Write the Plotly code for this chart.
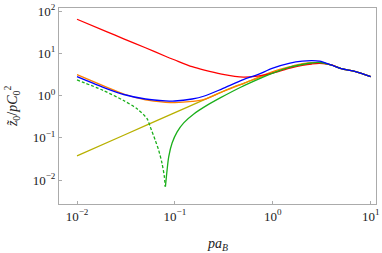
import plotly.graph_objects as go

# Common abscissa for red / orange / blue curves
x_common = [0.01, 0.02, 0.03, 0.05, 0.08, 0.1, 0.15, 0.2, 0.3, 0.5, 0.7, 1, 1.5, 2, 2.5, 3, 4, 5, 7, 10]
red_y = [63.8, 32.6, 21.9, 13.5, 8.50, 6.92, 4.81, 3.98, 3.21, 2.72, 2.88, 3.38, 4.44, 5.14, 5.57, 5.75, 5.31, 4.32, 3.67, 2.80]
blue_y = [2.80, 1.46, 1.056, 0.827, 0.750, 0.742, 0.827, 0.973, 1.42, 2.38, 3.12, 4.44, 5.82, 6.48, 6.66, 6.48, 5.22, 4.32, 3.67, 2.80]
orange_y = [3.12, 1.585, 1.085, 0.784, 0.692, 0.677, 0.723, 0.805, 1.21, 1.92, 2.65, 3.67, 4.81, 5.66, 5.98, 5.98, 5.22, 4.32, 3.67, 2.80]

# Green, solid branch
green_x = [0.08, 0.0832, 0.0864, 0.0936, 0.1054, 0.123, 0.156, 0.214, 0.293, 0.47, 0.753, 1.0, 1.5, 2, 2.5, 3, 4, 5, 7, 10]
green_y = [0.00696, 0.0172, 0.0353, 0.075, 0.138, 0.225, 0.365, 0.59, 0.89, 1.57, 2.58, 3.38, 4.68, 5.42, 5.88, 6.04, 5.22, 4.32, 3.67, 2.80]

# Green, dashed branch
gdash_x = [0.01, 0.0186, 0.0299, 0.041, 0.0519, 0.0561, 0.063, 0.0682, 0.0739, 0.078, 0.0795]
gdash_y = [2.34, 1.31, 0.76, 0.486, 0.283, 0.179, 0.0873, 0.0508, 0.0247, 0.012, 0.00696]

# Yellow
yellow_x = [0.01, 0.03, 0.1, 0.2, 0.3, 0.4, 0.5, 0.7, 1, 1.5, 2, 2.5, 3, 4, 5, 7, 10]
yellow_y = [0.0373, 0.1145, 0.392, 0.796, 1.20, 1.61, 1.92, 2.58, 3.48, 4.68, 5.42, 5.88, 6.04, 5.22, 4.32, 3.67, 2.80]

x_ticks = [0.01, 0.1, 1, 10]
x_ticktext = ["10<sup>−2</sup>", "10<sup>−1</sup>", "10<sup>0</sup>", "10<sup>1</sup>"]
y_ticks = [0.01, 0.1, 1, 10, 100]
y_ticktext = ["10<sup>−2</sup>", "10<sup>−1</sup>", "10<sup>0</sup>", "10<sup>1</sup>", "10<sup>2</sup>"]

RED = "#ff0000"
BLUE = "#0000ff"
ORANGE = "#ff8000"
GREEN = "#1aaf1a"
YELLOW = "#b8b000"
LW = 1.3

fig = go.Figure()
def add(x, y, color, dash="solid"):
    fig.add_trace(go.Scatter(x=x, y=y, mode="lines",
                             line=dict(color=color, width=LW, dash=dash, shape="spline", smoothing=0.8),
                             showlegend=False, hoverinfo="skip"))

add(yellow_x, yellow_y, YELLOW)
add(x_common, orange_y, ORANGE)
add(x_common, red_y, RED)
add(green_x, green_y, GREEN)
add(gdash_x, gdash_y, GREEN, dash="3px,2px")
add(x_common, blue_y, BLUE)

font_family = "Liberation Serif, DejaVu Serif, serif"
axis_common = dict(
    type="log", showgrid=False, zeroline=False, automargin=False,
    showline=True, linecolor="#ababab", linewidth=1, mirror=True,
    ticks="inside", ticklen=3, tickcolor="#ababab", tickwidth=1,
    tickfont=dict(family=font_family, size=13, color="#222222"),
)

fig.update_layout(
    width=382, height=253,
    margin=dict(l=59, r=6, t=8, b=49),
    paper_bgcolor="white", plot_bgcolor="white",
    xaxis=dict(axis_common, range=[-2.184, 1.054], tickvals=x_ticks, ticktext=x_ticktext),
    yaxis=dict(axis_common, range=[-2.568, 2.071], tickvals=y_ticks, ticktext=y_ticktext),
    annotations=[
        dict(text="<i>pa</i><sub><i>B</i></sub>", xref="paper", yref="paper",
             x=0.5, y=-0.209, yanchor="middle", xanchor="center", showarrow=False,
             font=dict(family=font_family, size=14, color="#222222")),
        dict(text="<i>z̃</i><sub>0</sub>/<i>pC</i><sub>0</sub><sup>2</sup>", xref="paper", yref="paper",
             x=-0.148, y=0.5, xanchor="center", yanchor="middle", textangle=-90, showarrow=False,
             font=dict(family=font_family, size=14, color="#222222")),
    ],
)

fig.write_html("out.html", config={"displayModeBar": False, "staticPlot": True},
               post_script="document.body.style.margin='0';document.body.style.overflow='hidden';")
